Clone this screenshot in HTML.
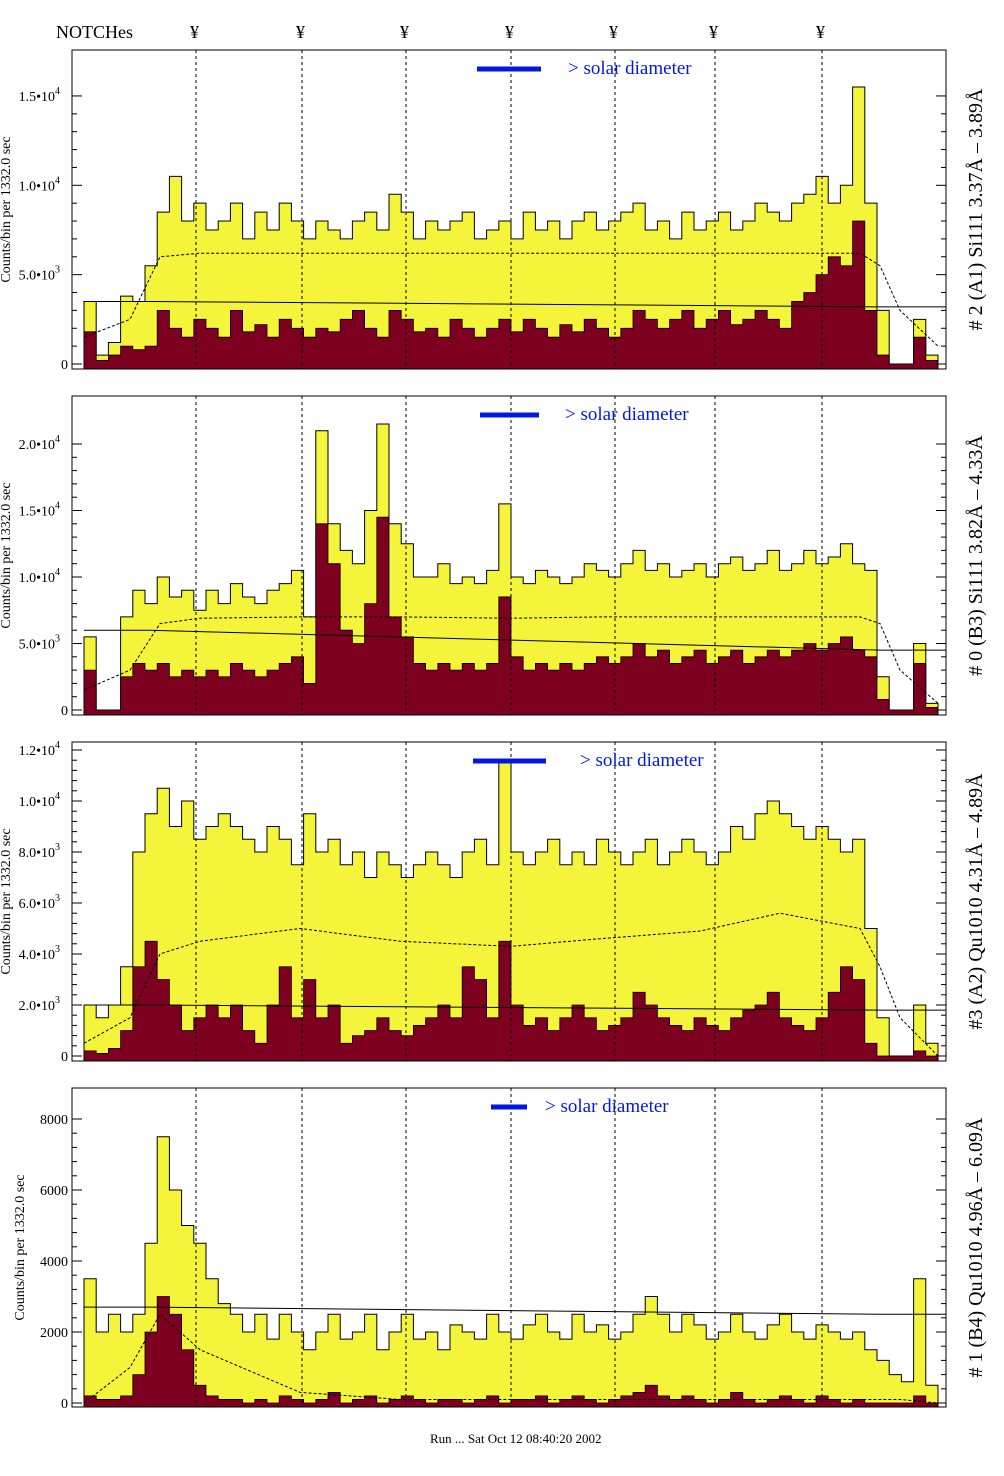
<!DOCTYPE html>
<html><head><meta charset="utf-8"><style>
html,body{margin:0;padding:0;background:#fff;}
svg{display:block;font-family:"Liberation Serif",serif;}
</style></head><body>
<svg id="chart" width="1004" height="1476" viewBox="0 0 1004 1476" xmlns="http://www.w3.org/2000/svg">
<text x="56" y="38" font-size="18">NOTCHes</text>
<text x="430" y="1443" font-size="13">Run ... Sat Oct 12 08:40:20 2002</text>
</svg>
<script>
const notches=[196,302,406,511,615,715,822];
const panelTitles=["# 2 (A1) Si111  3.37Å – 3.89Å","# 0 (B3) Si111  3.82Å – 4.33Å","#3 (A2) Qu1010  4.31Å – 4.89Å","# 1 (B4) Qu1010 4.96Å – 6.09Å"];
const y1=[3500,500,1200,3800,3500,5500,8500,10500,8000,9000,7500,8000,9000,7000,8500,7500,9000,8000,7000,8000,7500,7000,8000,8500,7500,9500,8500,7000,8000,7500,8000,8500,7000,7500,8000,7000,8500,7500,8000,7000,8000,8500,7500,8000,8500,9000,7500,8000,7000,8500,7500,8000,8500,7500,8000,9000,8500,8000,9000,9500,10500,9000,10000,15500,9000,3000,0,0,2500,500];
const m1=[1800,200,500,1000,800,1000,3000,2000,1500,2500,2000,1500,3000,1800,2200,1500,2500,2000,1500,2000,1800,2500,3000,2000,1500,3000,2500,1800,2000,1500,2500,2000,1500,2000,2500,1800,2500,2000,1500,2200,1800,2500,2000,1500,2000,3000,2500,2000,2500,3000,2000,2500,3000,2200,2500,3000,2500,2000,3500,4000,5000,6000,5500,8000,3000,500,0,0,1500,200];
const y2=[5500,0,0,7000,9000,8000,10000,8500,9000,7500,9000,8000,9500,8500,8000,9000,9500,10500,7000,21000,14000,12000,11000,15000,21500,14000,12500,10000,10000,11000,9500,10000,9500,10500,15500,10000,9500,10500,10000,9500,10000,11000,10500,10000,11000,12000,10500,11000,10000,10500,11000,10000,11000,11500,10500,11000,12000,10500,11000,12000,11000,11500,12500,11000,10500,2500,0,0,5000,500];
const m2=[3000,0,0,2500,3500,3000,3500,2500,3000,2500,3000,2500,3500,3000,2500,3000,3500,4000,2000,14000,11000,6000,5000,8000,14500,7000,5500,3500,3000,3500,3000,3500,3000,3500,8500,4000,3000,3500,3000,3500,3000,3500,4000,3500,4000,5000,4000,4500,3500,4000,4500,3500,4000,4500,3500,4000,4500,4000,4500,5000,4500,5000,5500,4500,4000,800,0,0,3500,200];
const y3=[2000,1500,2000,3500,8000,9500,10500,9000,10000,8500,9000,9500,9000,8500,8000,9000,8500,7500,9500,8000,8500,7500,8000,7000,8000,7500,7000,7500,8000,7500,7000,8000,8500,7500,11500,8000,7500,8000,8500,7500,8000,7500,8500,8000,7500,8000,8500,7500,8000,8500,8000,7500,8000,9000,8500,9500,10000,9500,9000,8500,9000,8500,8000,8500,5000,1500,0,0,2000,500];
const m3=[200,100,300,1000,3500,4500,3000,2000,1000,1500,2000,1500,2000,1000,500,2000,3500,1500,3000,1500,2000,500,800,1000,1500,1000,800,1200,1500,2000,1500,3500,3000,1500,4500,2000,1200,1500,1000,1500,2000,1500,1000,1200,1500,2500,2000,1500,1200,1000,1500,1200,1000,1500,1800,2000,2500,1500,1200,1000,1500,2500,3500,3000,500,0,0,0,200,0];
const y4=[3500,2000,2500,2000,2500,4500,7500,6000,5000,4500,3500,2800,2500,2000,2500,1800,2500,2000,1500,2000,2500,1800,2000,2500,1500,2000,2500,1800,2000,1500,2200,2000,1800,2500,2000,1800,2200,2500,2000,1800,2500,2000,2200,1800,2000,2500,3000,2500,2000,2500,2200,1800,2000,2500,2000,1800,2200,2500,2000,1800,2200,2000,1800,2000,1500,1200,800,600,3500,500];
const m4=[200,100,100,200,800,2000,3000,2500,1500,500,200,100,100,0,100,0,200,100,0,100,300,0,100,200,0,100,200,100,0,100,100,0,100,200,0,100,100,200,0,100,200,100,0,100,200,300,500,200,100,200,100,0,100,300,100,0,100,200,100,0,200,100,0,100,0,0,0,0,200,0];
const dashX=[84,130,160,200,300,400,511,600,700,780,860,880,900,938];
const dash1=[1500,2500,6000,6200,6200,6200,6200,6200,6200,6200,6200,5500,3000,1000];
const dash2=[1500,3000,6500,6900,7000,7000,6900,7000,7000,7000,7000,6500,3000,500];
const dash3=[500,1500,4000,4500,5000,4500,4300,4600,4900,5600,5000,3500,1500,0];
const dash4=[0,1000,2500,1500,300,100,100,100,100,100,100,100,100,0];
const solX=[84,150,880,946];
const sol1=[3500,3500,3200,3200];
const sol2=[6000,6000,4500,4500];
const sol3=[2000,2000,1800,1800];
const sol4=[2700,2700,2500,2500];
const ticks1=[0,5000,10000,15000], tl1=["0","5.0•10|3","1.0•10|4","1.5•10|4"];
const ticks2=[0,5000,10000,15000,20000], tl2=["0","5.0•10|3","1.0•10|4","1.5•10|4","2.0•10|4"];
const ticks3=[0,2000,4000,6000,8000,10000,12000], tl3=["0","2.0•10|3","4.0•10|3","6.0•10|3","8.0•10|3","1.0•10|4","1.2•10|4"];
const ticks4=[0,2000,4000,6000,8000], tl4=["0","2000","4000","6000","8000"];
const panels=[
 {top:50,bot:369,y0:364,ppu:178.7/10000,yel:y1,mar:m1,dash:dash1,sol:sol1,ticks:ticks1,tl:tl1,sd:[477,541,568]},
 {top:396,bot:715,y0:710,ppu:133/10000,yel:y2,mar:m2,dash:dash2,sol:sol2,ticks:ticks2,tl:tl2,sd:[480,539,565]},
 {top:742,bot:1061,y0:1056,ppu:255/10000,yel:y3,mar:m3,dash:dash3,sol:sol3,ticks:ticks3,tl:tl3,sd:[473,546,580]},
 {top:1088,bot:1407,y0:1403,ppu:35.5/1000,yel:y4,mar:m4,dash:dash4,sol:sol4,ticks:ticks4,tl:tl4,sd:[491,527,545]}
];
const NS="http://www.w3.org/2000/svg";
const svg=document.getElementById('chart');
function mk(tag,attrs,parent){const e=document.createElementNS(NS,tag);for(const k in attrs)e.setAttribute(k,attrs[k]);(parent||svg).appendChild(e);return e;}
const XL=72,XR=946,HX0=84,HX1=938;
notches.forEach((x,i)=>{const t=mk('text',{x:x-6,y:38,'font-size':18});t.textContent='¥';

});
panels.forEach((p,pi)=>{
 const g=mk('g',{});
 
 
 const ys=v=>Math.max(p.top,Math.min(p.bot,p.y0-v*p.ppu));
 const n=p.yel.length,w=(HX1-HX0)/n;
 const xs=i=>HX0+i*w;
 function step(arr){let d='M'+HX0+','+p.bot;arr.forEach((v,i)=>{d+=' L'+xs(i)+','+ys(v)+' L'+xs(i+1)+','+ys(v);});d+=' L'+HX1+','+p.bot+' Z';return d;}
 const yp=mk('path',{d:step(p.yel),fill:'#f4f43a',stroke:'#000','stroke-width':1},g);
 
 
 const mp=mk('path',{d:step(p.mar),fill:'#7d0020',stroke:'#000','stroke-width':0.8},g);
 
 
 const dl=mk('polyline',{points:dashX.map((x,i)=>x+','+ys(p.dash[i])).join(' '),fill:'none',stroke:'#000','stroke-width':1,'stroke-dasharray':'3,2'},g);
 
 
 const sl=mk('polyline',{points:solX.map((x,i)=>x+','+ys(p.sol[i])).join(' '),fill:'none',stroke:'#000','stroke-width':1},g);
 
 
 notches.forEach(x=>{const l=mk('line',{x1:x,x2:x,y1:p.top,y2:p.bot,stroke:'#000','stroke-width':1,'stroke-dasharray':'3,3'},g);
 
 });
 const fr=mk('rect',{x:XL,y:p.top,width:XR-XL,height:p.bot-p.top,fill:'none',stroke:'#000','stroke-width':1},g);
 
 
 p.ticks.forEach((v,i)=>{const y=ys(v);
  mk('line',{x1:XL,x2:XL+10,y1:y,y2:y,stroke:'#000'},g);
  mk('line',{x1:XR,x2:XR-10,y1:y,y2:y,stroke:'#000'},g);
  const parts=p.tl[i].split('|');
  const t=mk('text',{x:68,y:y+5,'font-size':14,'text-anchor':'end'},g);
  
  
  if(parts.length>1){t.setAttribute('x',60);const s=mk('tspan',{},t);s.textContent=parts[0];
   const s2=mk('tspan',{dy:-7,'font-size':10},t);s2.textContent=parts[1];}
  else t.textContent=parts[0];
  if(i<p.ticks.length-1){const step=(p.ticks[1]-p.ticks[0])/5;for(let k=1;k<5;k++){const yy=ys(v+k*step);
   mk('line',{x1:XL,x2:XL+5,y1:yy,y2:yy,stroke:'#000'},g);mk('line',{x1:XR,x2:XR-5,y1:yy,y2:yy,stroke:'#000'},g);}}
 });
 const cy=(p.top+p.bot)/2;
 const yt=mk('text',{x:0,y:0,'font-size':14,'text-anchor':'middle',transform:`translate(${pi==3?24:10},${cy}) rotate(-90)`},g);
 yt.textContent='Counts/bin per   1332.0 sec';
 
 
 const rt=mk('text',{x:0,y:0,'font-size':20,'text-anchor':'middle',transform:`translate(982,${cy}) rotate(-90)`},g);
 rt.textContent=panelTitles[pi];
 
 
 const sd=mk('line',{x1:p.sd[0],x2:p.sd[1],y1:p.top+19,y2:p.top+19,stroke:'#0018e0','stroke-width':5},g);
 
 
 const st=mk('text',{x:p.sd[2],y:p.top+24,'font-size':19,fill:'#0018e0'},g);
 st.textContent='> solar diameter';
 
 
});
</script>
</body></html>
